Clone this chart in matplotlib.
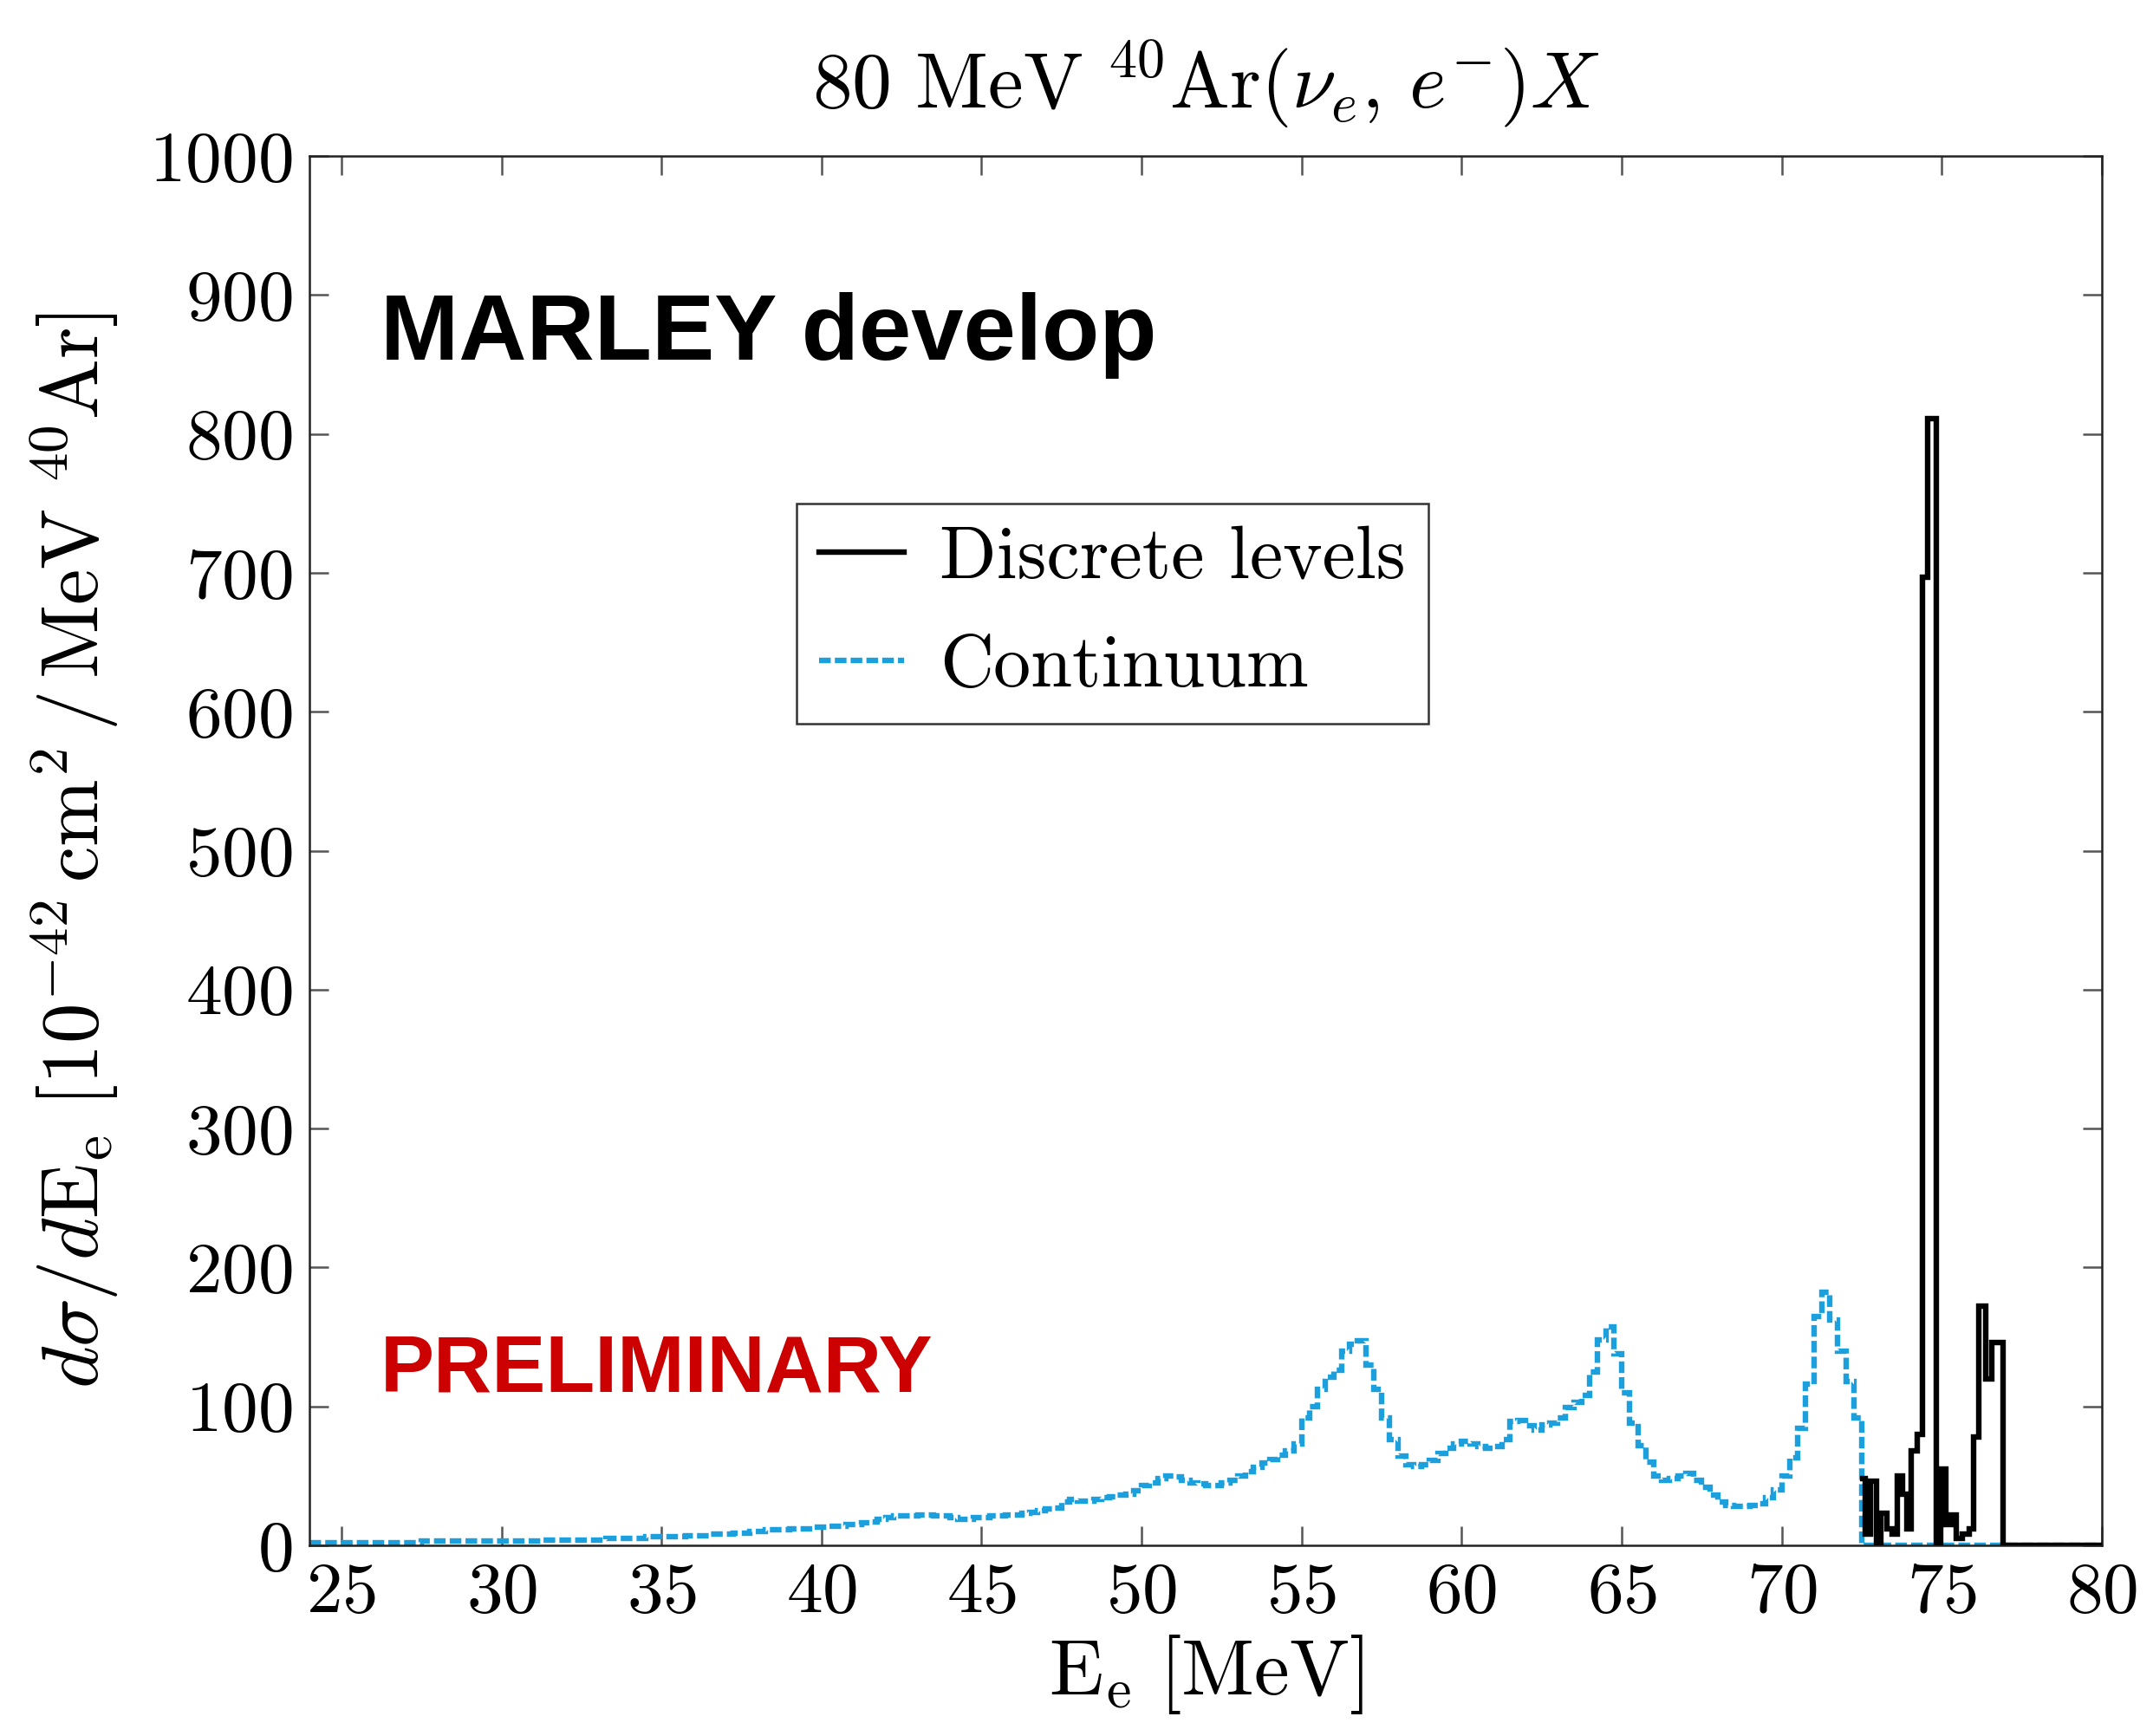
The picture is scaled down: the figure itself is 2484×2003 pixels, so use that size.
import numpy as np
import matplotlib
matplotlib.use("Agg")
import matplotlib.pyplot as plt
from matplotlib.lines import Line2D

plt.rcParams['font.family'] = 'serif'
plt.rcParams['font.serif'] = ['cmr10']
plt.rcParams['mathtext.fontset'] = 'cm'
plt.rcParams['axes.formatter.use_mathtext'] = True

# ---------------- data ----------------
# Continuum: 0.25 MeV bins starting at 24 MeV (values per MeV, 4 bins each)
cont_start = 24.0
cont_width = 0.25
cont_vals = [
    2, 2, 2, 2,        # 24
    2, 2, 2, 2,        # 25
    2, 2, 2, 2,        # 26
    2, 2, 3, 3,        # 27
    3, 3, 3, 3,        # 28
    3, 3, 3, 3,        # 29
    3, 3, 3, 3,        # 30
    3, 4, 4, 4,        # 31
    4, 4, 4, 4,        # 32
    4, 5, 5, 5,        # 33
    5, 5, 6, 6,        # 34
    6, 6, 6, 7,        # 35
    7, 7, 8, 8,        # 36
    8, 9, 9, 10,       # 37
    10, 11, 11, 11,    # 38
    12, 12, 12, 13,    # 39
    13, 14, 14, 15,    # 40
    15, 16, 17, 19,    # 41
    20, 21, 21, 21,    # 42
    22, 22, 21, 21,    # 43
    20, 19, 19, 20,    # 44
    20, 21, 21, 22,    # 45
    22, 23, 24, 25,    # 46
    26, 27, 31, 33,    # 47
    32, 32, 33, 34,    # 48
    35, 36, 37, 39,    # 49
    43, 45, 48, 50,    # 50
    49, 47, 45, 44,    # 51
    43, 43, 45, 47,    # 52
    50, 53, 56, 59,    # 53
    62, 65, 68, 73,    # 54
    92, 100, 112, 121, # 55
    126, 140, 145, 147,# 56
    130, 112, 92, 76,  # 57
    64, 58, 57, 58,    # 58
    61, 66, 70, 73,    # 59
    75, 73, 71, 70,    # 60
    71, 76, 89, 90,    # 61
    86, 83, 87, 88,    # 62
    92, 99, 103, 108,  # 63
    125, 148, 157, 138,# 64
    110, 88, 72, 60,   # 65
    50, 47, 48, 50,    # 66
    52, 47, 42, 36,    # 67
    31, 29, 28, 28,    # 68
    29, 30, 34, 40,    # 69
    50, 63, 84, 116,   # 70
    165, 182, 162, 140,# 71
    118, 92,           # 72
]
cont_tail_end = 80.0

# Discrete levels: explicit bin edges and heights
disc_edges = [72.45, 72.62, 72.78, 72.95, 73.10, 73.28, 73.45, 73.60, 73.78,
              73.92, 74.05, 74.22, 74.40, 74.55, 74.83, 74.95, 75.12, 75.30,
              75.45, 75.65, 75.85, 76.00, 76.15, 76.38, 76.55, 76.92, 80.0]
disc_vals = [48, 8, 46, 0, 23, 12, 8, 50, 37,
             12, 68, 80, 697, 811, 0, 55, 15, 22,
             5, 8, 12, 78, 172, 120, 146, 0]

x_ticks = [25, 30, 35, 40, 45, 50, 55, 60, 65, 70, 75, 80]
y_ticks = [0, 100, 200, 300, 400, 500, 600, 700, 800, 900, 1000]

title = r'$80\ \mathrm{MeV}\ {}^{40}\mathrm{Ar}(\nu_e,\, e^{-})X$'
xlabel = r'$\mathrm{E}_\mathrm{e}\ [\mathrm{MeV}]$'
ylabel = r'$d\sigma/d\mathrm{E}_\mathrm{e}\ [10^{-42}\,\mathrm{cm}^2\,/\,\mathrm{MeV}\ {}^{40}\mathrm{Ar}]$'
legend_labels = ['Discrete levels', 'Continuum']

blue = '#1b9fdd'
LW = 2.3
DASH = (0, (2.1, 0.75))

# ---------------- figure ----------------
W, H, DPI = 2484, 2003, 200
fig = plt.figure(figsize=(W / DPI, H / DPI), dpi=DPI)
ax = fig.add_axes([357 / W, 1 - 1783 / H, (2425 - 357) / W, (1783 - 180) / H])

cont_edges = cont_start + cont_width * np.arange(len(cont_vals) + 1)
c_vals = list(cont_vals) + [0]
c_edges = list(cont_edges) + [cont_tail_end]

ax.stairs(c_vals, c_edges, color=blue, lw=LW, linestyle=DASH,
          baseline=None, zorder=2)
ax.stairs(disc_vals, disc_edges, color='black', lw=LW, baseline=None, zorder=3)

ax.set_xlim(24, 80)
ax.set_ylim(0, 1000)
ax.set_xticks(x_ticks)
ax.set_yticks(y_ticks)
ax.tick_params(axis='both', which='major', direction='in', length=8, width=0.9,
               color='#555555', labelsize=30, top=True, right=True, pad=7)
for s in ax.spines.values():
    s.set_linewidth(0.9)
    s.set_color('#222222')

ax.set_title(title, fontsize=33, pad=20)
ax.set_xlabel(xlabel, fontsize=33, labelpad=3)
ax.set_ylabel(ylabel, fontsize=33.5, labelpad=12)

handles = [Line2D([], [], color='black', lw=LW),
           Line2D([], [], color=blue, lw=LW, linestyle=DASH)]
leg = ax.legend(handles, legend_labels, loc='upper left',
                bbox_to_anchor=(919 / W, 1 - 581 / H), bbox_transform=fig.transFigure,
                fontsize=31, frameon=True, fancybox=False, edgecolor='black',
                handlelength=1.14, handletextpad=0.48, labelspacing=0.55,
                borderpad=0.3, borderaxespad=0)
leg.get_frame().set_linewidth(0.9)

fig.text(439 / W, 1 - 415 / H, 'MARLEY develop', fontsize=39, fontweight='bold',
         family='Liberation Sans', color='black', ha='left', va='baseline')
fig.text(439 / W, 1 - 1606 / H, 'PRELIMINARY', fontsize=33.5, fontweight='bold',
         family='Liberation Sans', color='#cc0000', ha='left', va='baseline')

fig.savefig('out.png', dpi=DPI)
